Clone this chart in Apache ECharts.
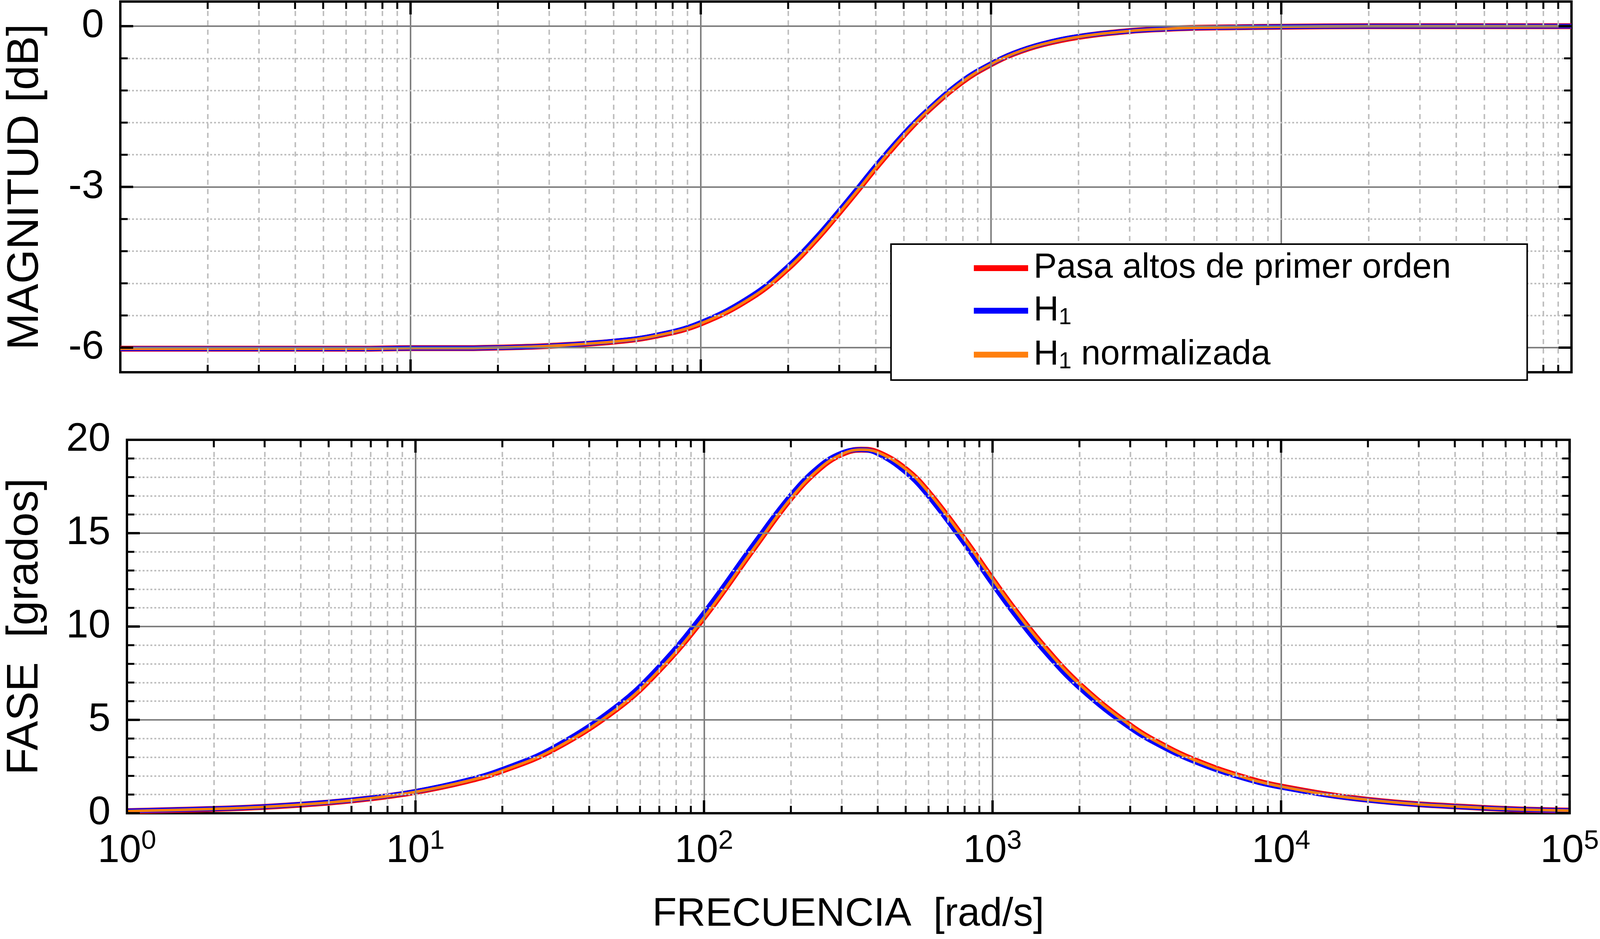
<!DOCTYPE html>
<html>
<head>
<meta charset="utf-8">
<title>Pasa altos</title>
<script src="https://cdn.jsdelivr.net/npm/echarts@6/dist/echarts.min.js"></script>
<style>html,body{margin:0;padding:0;background:#fff;overflow:hidden}#chart{width:100vw;height:100vh}</style>
</head>
<body>
<div id="chart"></div>
<script>
// frecuencias [rad/s]
var freq  = [1, 2, 3, 5, 7, 10, 15, 20, 30, 50, 70, 100, 150, 200, 250, 300, 350, 400, 500, 600, 800, 1000, 1200, 1500, 2000, 3000, 4000, 5000, 7000, 10000, 20000, 50000, 100000];
// magnitud [dB]
var magRef = [-6.02, -6.02, -6.02, -6.02, -6.02, -6.01, -6.01, -6.0, -5.97, -5.89, -5.78, -5.55, -5.06, -4.52, -3.98, -3.48, -3.04, -2.65, -2.04, -1.6, -1.03, -0.71, -0.51, -0.34, -0.2, -0.09, -0.05, -0.03, -0.02, -0.01, 0, 0, 0];
var magH1  = [-6.02, -6.02, -6.02, -6.02, -6.02, -6.01, -6.01, -6.0, -5.97, -5.88, -5.77, -5.53, -5.03, -4.48, -3.94, -3.44, -3.0, -2.61, -2.01, -1.58, -1.01, -0.7, -0.5, -0.33, -0.19, -0.09, -0.05, -0.03, -0.02, -0.01, 0, 0, 0];
// fase [grados]
var phRef = [0.11, 0.23, 0.34, 0.57, 0.8, 1.14, 1.71, 2.28, 3.41, 5.6, 7.67, 10.49, 14.26, 16.86, 18.43, 19.23, 19.47, 19.33, 18.43, 17.19, 14.66, 12.53, 10.85, 8.97, 6.91, 4.7, 3.55, 2.85, 2.04, 1.43, 0.72, 0.29, 0.14];
var phH1  = [0.12, 0.24, 0.35, 0.59, 0.82, 1.17, 1.76, 2.35, 3.51, 5.76, 7.87, 10.74, 14.5, 17.04, 18.56, 19.3, 19.47, 19.26, 18.26, 16.98, 14.42, 12.27, 10.6, 8.74, 6.72, 4.57, 3.45, 2.77, 1.98, 1.39, 0.7, 0.28, 0.14];
var decades = [1, 10, 100, 1000, 10000, 100000];
var magTicks = [-6, -3, 0];
var phTicks = [0, 5, 10, 15, 20];

var W = window.innerWidth, H = window.innerHeight;
var s = W / 4412, sy = H / 2404;
function px(v) { return Math.round(v * s); }

function pairs(x, y) { return x.map(function (v, i) { return [v, y[i]]; }); }

var xMinor = [];
for (var d = 0; d < 5; d++) for (var k = 2; k <= 9; k++) xMinor.push(k * Math.pow(10, d));
var magMinor = [], phMinor = [];
for (var m = -6; m < 0; m += 0.6) magMinor.push(+m.toFixed(2));
for (var p = 1; p < 20; p++) if (p % 5) phMinor.push(p);

var ranges = [{ min: -6.46, max: 0.46, major: magTicks, minor: magMinor },
              { min: 0, max: 20, major: phTicks, minor: phMinor }];

var FONT = 'Liberation Sans';

function gridLines(g) {
  var r = ranges[g], data = [];
  xMinor.forEach(function (v) { data.push({ xAxis: v, lineStyle: { color: '#c0c0c0', type: [px(14), px(12)], width: px(4) } }); });
  decades.slice(1, 5).forEach(function (v) { data.push({ xAxis: v, lineStyle: { color: '#808080', type: 'solid', width: px(4) } }); });
  r.minor.forEach(function (v) { data.push({ yAxis: v, lineStyle: { color: '#c0c0c0', type: [px(5), px(5)], width: px(4) } }); });
  r.major.forEach(function (v) { if (v > r.min && v < r.max) data.push({ yAxis: v, lineStyle: { color: '#808080', type: 'solid', width: px(4) } }); });
  return {
    type: 'line', xAxisIndex: g, yAxisIndex: g, data: [], z: 1, silent: true,
    markLine: { silent: true, symbol: 'none', label: { show: false }, animation: false, data: data }
  };
}

function tickSeries(g) {
  var r = ranges[g], data = [];
  decades.forEach(function (v) { data.push([v, 0, 1]); });
  xMinor.forEach(function (v) { data.push([v, 0, 0]); });
  r.major.forEach(function (v) { data.push([0, v, 1]); });
  r.minor.forEach(function (v) { data.push([0, v, 0]); });
  return {
    type: 'custom', xAxisIndex: g, yAxisIndex: g, z: 5, silent: true, data: data,
    renderItem: function (params, api) {
      var x = api.value(0), y = api.value(1), L = px(api.value(2) ? 36 : 20);
      var st = { stroke: '#000', lineWidth: px(api.value(2) ? 6 : 5) };
      if (x > 0) {
        var b = api.coord([x, r.min]), t = api.coord([x, r.max]);
        return { type: 'group', children: [
          { type: 'line', shape: { x1: b[0], y1: b[1], x2: b[0], y2: b[1] - L }, style: st },
          { type: 'line', shape: { x1: t[0], y1: t[1], x2: t[0], y2: t[1] + L }, style: st }] };
      }
      var l = api.coord([1, y]), rr = api.coord([100000, y]);
      return { type: 'group', children: [
        { type: 'line', shape: { x1: l[0], y1: l[1], x2: l[0] + L, y2: l[1] }, style: st },
        { type: 'line', shape: { x1: rr[0], y1: rr[1], x2: rr[0] - L, y2: rr[1] }, style: st }] };
    }
  };
}

function curves(g, ref, h1) {
  return [
    { name: 'Pasa altos de primer orden', type: 'line', xAxisIndex: g, yAxisIndex: g, data: pairs(freq, ref), smooth: 0.4, showSymbol: false, color: '#ff0000', lineStyle: { width: px(16) }, z: 3 },
    { name: 'H1', type: 'line', xAxisIndex: g, yAxisIndex: g, data: pairs(freq, h1), smooth: 0.4, showSymbol: false, color: '#0000ff', lineStyle: { width: px(13) }, z: 3 },
    { name: 'H1 normalizada', type: 'line', xAxisIndex: g, yAxisIndex: g, data: pairs(freq, ref), smooth: 0.4, showSymbol: false, color: '#ff7f0e', lineStyle: { width: px(8) }, z: 3 }
  ];
}

var myChart = echarts.init(document.getElementById('chart'));
var xBase = {
  type: 'log', logBase: 10, min: 1, max: 100000,
  axisLine: { show: false }, axisTick: { show: false }, splitLine: { show: false }
};
var yBase = { type: 'value', axisLine: { show: false }, axisTick: { show: false }, splitLine: { show: false },
  nameLocation: 'middle', nameTextStyle: { fontFamily: FONT, fontSize: px(122), color: '#000' } };

option = {
  backgroundColor: '#fff',
  animation: false,
  grid: [
    { left: px(332), right: px(79), top: Math.round(4 * sy), height: Math.round(949 * sy), show: true, borderColor: '#000', borderWidth: px(6) },
    { left: px(332), right: px(79), top: Math.round(1126 * sy), height: Math.round(956 * sy), show: true, borderColor: '#000', borderWidth: px(6) }
  ],
  xAxis: [
    Object.assign({}, xBase, { gridIndex: 0, axisLabel: { show: false } }),
    Object.assign({}, xBase, { gridIndex: 1,
      name: 'FRECUENCIA  [rad/s]', nameLocation: 'middle', nameGap: px(225),
      nameTextStyle: { fontFamily: FONT, fontSize: px(110), color: '#000' },
      axisLabel: { margin: px(40), color: '#000', fontFamily: FONT,
        formatter: function (v) { return '{b|10}{s|' + Math.round(Math.log10(v)) + '}'; },
        rich: { b: { fontSize: px(108), fontFamily: FONT, color: '#000' },
                s: { fontSize: px(74), fontFamily: FONT, color: '#000', padding: [0, 0, px(55), 0] } } } })
  ],
  yAxis: [
    Object.assign({}, yBase, { gridIndex: 0, min: -6.46, max: 0.46, name: 'MAGNITUD [dB]', nameGap: px(200),
      axisLabel: { customValues: magTicks, margin: px(45), fontSize: px(110), fontFamily: FONT, color: '#000' } }),
    Object.assign({}, yBase, { gridIndex: 1, min: 0, max: 20, interval: 5, name: 'FASE  [grados]', nameGap: px(220),
      axisLabel: { margin: px(45), fontSize: px(110), fontFamily: FONT, color: '#000' } })
  ],
  legend: {
    data: ['Pasa altos de primer orden', 'H1', 'H1 normalizada'],
    orient: 'vertical', left: px(2457), top: Math.round(625 * sy),
    padding: [px(18), px(210), px(18), px(228)], itemGap: px(22), itemWidth: px(150), itemHeight: px(16), icon: 'rect',
    backgroundColor: '#fff', borderColor: '#000', borderWidth: px(4), z: 10,
    formatter: function (n) { return n.replace('H1', 'H{sub|1}'); },
    textStyle: { fontFamily: FONT, fontSize: px(96), color: '#000', padding: [0, 0, 0, px(10)],
      rich: { sub: { fontFamily: FONT, fontSize: px(64), color: '#000', padding: [px(40), 0, 0, 0] } } }
  },
  series: [gridLines(0), gridLines(1), tickSeries(0), tickSeries(1)]
    .concat(curves(0, magRef, magH1)).concat(curves(1, phRef, phH1))
};
myChart.setOption(option);
</script>
</body>
</html>
